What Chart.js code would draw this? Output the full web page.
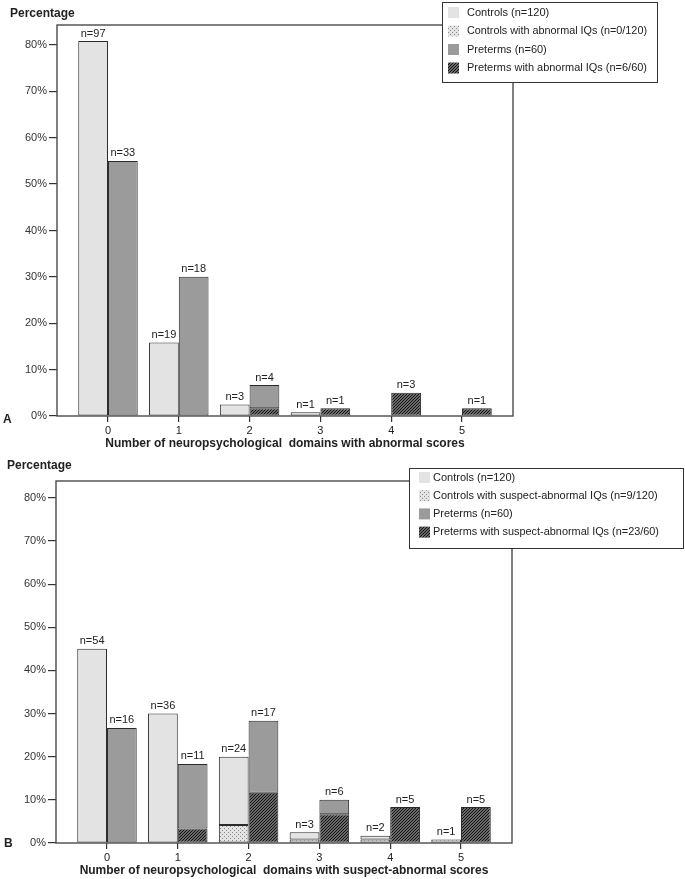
<!DOCTYPE html>
<html lang="en">
<head>
<meta charset="UTF-8">
<title>Neuropsychological domains</title>
<style>
  body { margin: 0; background: #fff; overflow: hidden; }
  .panel { position: absolute; left: 0; }
  #chartA { top: 0; }
  #chartB { top: 456px; }
</style>
</head>
<body>
<canvas class="panel" id="chartA" width="685" height="456"></canvas>
<canvas class="panel" id="chartB" width="685" height="423"></canvas>
<script src="https://cdn.jsdelivr.net/npm/chart.js"></script>
<script>
// categories: number of domains with (suspect-)abnormal scores
const domains = [0, 1, 2, 3, 4, 5]
const nControls = 120
const nPreterms = 60

// panel A - abnormal scores (counts)
const controlsA = [97, 19, 3, 1, 0, 0]
const controlsIqA = [0, 0, 0, 0, 0, 0]
const pretermsA = [33, 18, 4, 1, 3, 1]
const pretermsIqA = [0, 0, 1, 1, 3, 1]

// panel B - suspect-abnormal scores (counts)
const controlsB = [54, 36, 24, 3, 2, 1]
const controlsIqB = [0, 0, 5, 1, 1, 1]
const pretermsB = [16, 11, 17, 6, 5, 5]
const pretermsIqB = [0, 2, 7, 4, 5, 5]

const yTicks = [0, 10, 20, 30, 40, 50, 60, 70, 80]

const legendA = ['Controls (n=120)', 'Controls with abnormal IQs (n=0/120)', 'Preterms (n=60)', 'Preterms with abnormal IQs (n=6/60)']
const legendB = ['Controls (n=120)', 'Controls with suspect-abnormal IQs (n=9/120)', 'Preterms (n=60)', 'Preterms with suspect-abnormal IQs (n=23/60)']

const titleA = 'Number of neuropsychological  domains with abnormal scores'
const titleB = 'Number of neuropsychological  domains with suspect-abnormal scores'

const FONT = "'Liberation Sans', Arial, sans-serif"
const LIGHT = '#e3e3e3'
const DARK = '#9b9b9b'

function hatchPattern() {
    const c = document.createElement('canvas')
    c.width = 3; c.height = 3
    const g = c.getContext('2d')
    g.fillStyle = '#8e8e8e'
    g.fillRect(0, 0, 3, 3)
    g.strokeStyle = '#111'
    g.lineWidth = 1.15
    g.beginPath()
    g.moveTo(-1, 4); g.lineTo(4, -1)
    g.moveTo(-1, 1); g.lineTo(1, -1)
    g.moveTo(2, 4); g.lineTo(4, 2)
    g.stroke()
    return g.createPattern(c, 'repeat')
}

function dotPattern() {
    const c = document.createElement('canvas')
    c.width = 4; c.height = 4
    const g = c.getContext('2d')
    g.fillStyle = LIGHT
    g.fillRect(0, 0, 4, 4)
    g.fillStyle = '#8c8c8c'
    g.fillRect(0, 0, 1, 1)
    g.fillRect(2, 2, 1, 1)
    return g.createPattern(c, 'repeat')
}

const hatch = hatchPattern()
const dots = dotPattern()
const swatches = [LIGHT, dots, DARK, hatch]

function pct(counts, n) {
    return counts.map(c => c / n * 100)
}
function points(values) {
    return domains.map((d, i) => ({ x: d, y: values[i] }))
}
function minus(a, b) {
    return a.map((v, i) => v - b[i])
}

function makeDatasets(ctrl, ctrlIq, pre, preIq) {
    const common = { borderColor: '#2a2a2a', borderWidth: 1, borderSkipped: false }
    return [
        { ...common, label: 'ctrlIq', stack: 'c', backgroundColor: dots, data: points(pct(ctrlIq, nControls)) },
        { ...common, label: 'ctrl', stack: 'c', backgroundColor: LIGHT, data: points(pct(minus(ctrl, ctrlIq), nControls)) },
        { ...common, label: 'preIq', stack: 'p', backgroundColor: hatch, data: points(pct(preIq, nPreterms)) },
        { ...common, label: 'pre', stack: 'p', backgroundColor: DARK, data: points(pct(minus(pre, preIq), nPreterms)) },
    ]
}

// frame, n= labels, legend and panel texts
const decor = {
    id: 'decor',
    afterDraw(chart, args, o) {
        const { ctx, chartArea: a, scales } = chart
        ctx.save()
        ctx.strokeStyle = '#4a4a4a'
        ctx.lineWidth = 1.4
        ctx.strokeRect(a.left, a.top, a.right - a.left, a.bottom - a.top)

        // n= labels over each bar
        ctx.fillStyle = '#222'
        ctx.font = '11px ' + FONT
        ctx.textAlign = 'center'
        ctx.textBaseline = 'bottom'
        o.groups.forEach((g, gi) => {
            const meta = chart.getDatasetMeta(gi * 2 + 1)
            g.counts.forEach((c, i) => {
                if (!c) return
                const x = meta.data[i].x
                const y = scales.y.getPixelForValue(c / g.n * 100)
                ctx.fillText('n=' + c, x, y - 2)
            })
        })

        // "Percentage" and panel letter
        ctx.font = 'bold 12px ' + FONT
        ctx.textAlign = 'left'
        ctx.textBaseline = 'middle'
        ctx.fillText('Percentage', o.pctPos[0], o.pctPos[1])
        ctx.fillText(o.letter, o.letterPos[0], o.letterPos[1])

        // legend
        const b = o.legendBox
        ctx.fillStyle = '#fff'
        ctx.fillRect(b.x, b.y, b.w, b.h)
        ctx.strokeStyle = '#333'
        ctx.lineWidth = 1
        ctx.strokeRect(b.x + 0.5, b.y + 0.5, b.w, b.h)
        ctx.font = '11px ' + FONT
        o.legend.forEach((t, i) => {
            const y = b.rowY + i * b.step
            ctx.fillStyle = swatches[i]
            ctx.fillRect(b.sx, y - 5.5, 11, 11)
            ctx.fillStyle = '#222'
            ctx.fillText(t, b.tx, y, b.maxText)
        })
        ctx.restore()
    }
}

function makeChart(id, opts) {
    return new Chart(document.getElementById(id), {
        type: 'bar',
        data: { datasets: makeDatasets(...opts.data) },
        options: {
            responsive: false,
            devicePixelRatio: 1,
            animation: false,
            categoryPercentage: 0.84,
            barPercentage: 1,
            layout: { padding: { left: 0, top: opts.top, right: opts.right, bottom: 0 } },
            scales: {
                x: {
                    type: 'linear',
                    min: -0.72,
                    max: 5.72,
                    offset: false,
                    afterBuildTicks: s => { s.ticks = domains.map(v => ({ value: v })) },
                    afterFit: s => { s.height = opts.xHeight },
                    grid: { offset: false, drawOnChartArea: false, tickLength: 6, tickColor: '#333', lineWidth: 1.2 },
                    border: { display: false },
                    ticks: { color: '#222', padding: 2, font: { family: FONT, size: 11 }, callback: v => String(v) },
                    title: {
                        display: true,
                        text: opts.title,
                        color: '#222',
                        font: { family: FONT, size: 12, weight: 'bold' },
                        padding: { top: 0, bottom: opts.titlePad }
                    }
                },
                y: {
                    stacked: true,
                    min: 0,
                    max: opts.yMax,
                    afterBuildTicks: s => { s.ticks = yTicks.map(v => ({ value: v })) },
                    afterFit: s => { s.width = opts.yWidth },
                    grid: { drawOnChartArea: false, tickLength: 8, tickColor: '#333', lineWidth: 1.2 },
                    border: { display: false },
                    ticks: { color: '#333', padding: 2, font: { family: FONT, size: 11 }, callback: v => v + '%' }
                }
            },
            plugins: {
                legend: { display: false },
                tooltip: { enabled: false },
                decor: opts.decor
            }
        },
        plugins: [decor]
    })
}

makeChart('chartA', {
    data: [controlsA, controlsIqA, pretermsA, pretermsIqA],
    title: titleA,
    top: 25, right: 172, yWidth: 57, xHeight: 40, yMax: 84.3, titlePad: 5,
    decor: {
        letter: 'A', letterPos: [3, 420], pctPos: [10, 14],
        legend: legendA,
        legendBox: { x: 442, y: 2, w: 215, h: 80, sx: 448, tx: 467, rowY: 12.5, step: 18.5, maxText: 180 },
        groups: [{ counts: controlsA, n: nControls }, { counts: pretermsA, n: nPreterms }]
    }
})

makeChart('chartB', {
    data: [controlsB, controlsIqB, pretermsB, pretermsIqB],
    title: titleB,
    top: 25, right: 173, yWidth: 56, xHeight: 36, yMax: 83.9, titlePad: 1,
    decor: {
        letter: 'B', letterPos: [4, 388], pctPos: [7, 10],
        legend: legendB,
        legendBox: { x: 409, y: 12, w: 274, h: 80, sx: 419, tx: 433, rowY: 21.5, step: 18.2, maxText: 226 },
        groups: [{ counts: controlsB, n: nControls }, { counts: pretermsB, n: nPreterms }]
    }
})
</script>
</body>
</html>
